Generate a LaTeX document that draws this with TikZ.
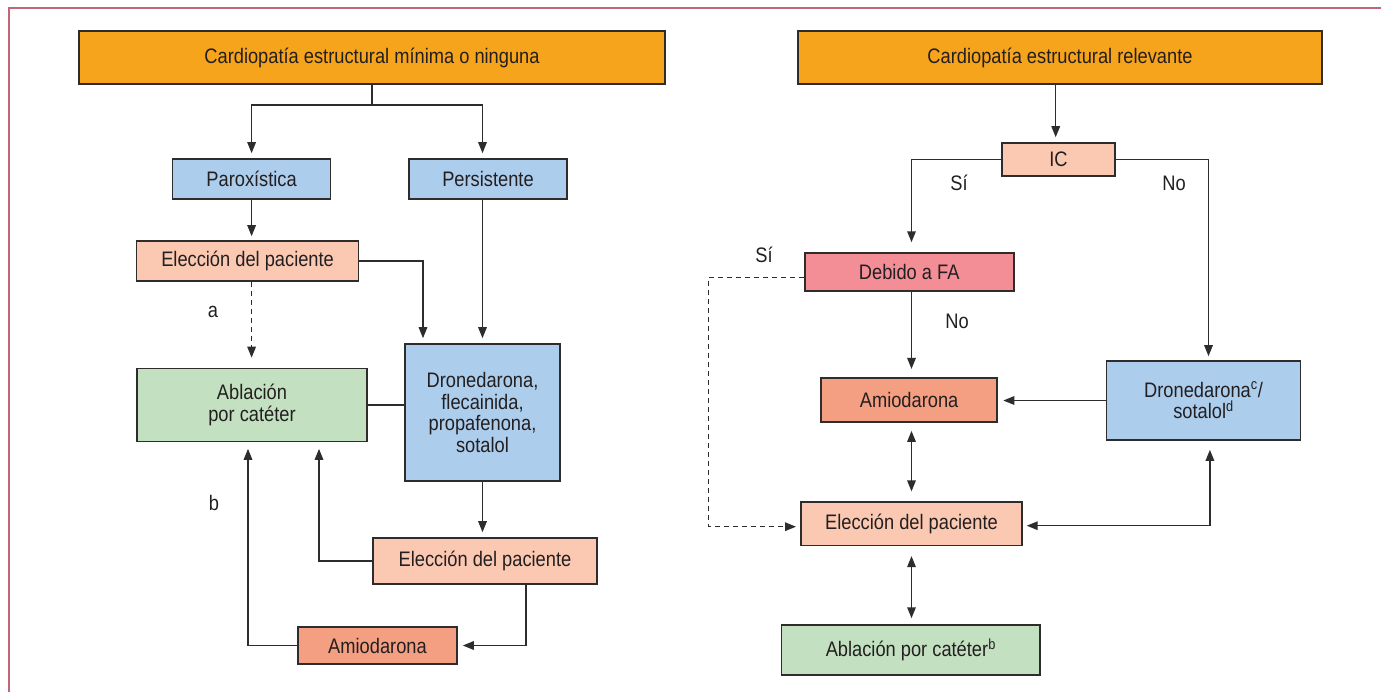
\documentclass[tikz,border=0pt]{standalone}
\usepackage{fontspec}
\setmainfont{Liberation Sans}[FakeStretch=0.87]
\usetikzlibrary{arrows.meta,calc}
\definecolor{cOrange}{HTML}{F7A41D}
\definecolor{cBlue}{HTML}{ACCDEC}
\definecolor{cPeach}{HTML}{FBC8B2}
\definecolor{cGreen}{HTML}{C3E1C1}
\definecolor{cSalmon}{HTML}{F49F82}
\definecolor{cPink}{HTML}{F38E96}
\definecolor{cFrame}{HTML}{C26675}
\definecolor{cLine}{HTML}{2E2C2D}
\definecolor{cText}{HTML}{231F20}
\begin{document}
\begin{tikzpicture}[x=1bp,y=-1bp,
  box/.style={draw=cLine,line width=1.6bp,inner sep=0pt,align=center,
    font=\fontsize{21bp}{21.5bp}\selectfont,text=cText},
  conn/.style={draw=cLine,line width=1.5bp},
  arr/.style={conn,-{Triangle[length=11bp,width=8.5bp]},shorten >=5bp},
  darr/.style={conn,{Triangle[length=11bp,width=8.5bp]}-{Triangle[length=11bp,width=8.5bp]}},
  dashline/.style={dash pattern=on 5bp off 4bp},
  lbl/.style={font=\fontsize{21bp}{21.5bp}\selectfont,text=cText,inner sep=0pt}
]
\useasboundingbox (0,0) rectangle (1381,692);
\fill[white] (0,0) rectangle (1381,692);
\draw[cFrame,line width=2bp] (8.5,692) -- (8.5,8) -- (1381,8);

% ---------- left diagram ----------
\node[box,fill=cOrange,minimum width=586bp,minimum height=53bp] (T1) at (372,57.5) {Cardiopatía estructural mínima o ninguna};
\node[box,fill=cBlue,minimum width=158bp,minimum height=40bp] (Parox) at (251.6,179) {Paroxística};
\node[box,fill=cBlue,minimum width=158bp,minimum height=40bp] (Persis) at (488,179) {Persistente};
\node[box,fill=cPeach,minimum width=222bp,minimum height=40bp] (ElecL) at (247.6,261) {Elección del paciente};
\node[box,fill=cBlue,minimum width=155bp,minimum height=137bp] (DroneL) at (482.5,412.5) {Dronedarona,\\flecainida,\\propafenona,\\sotalol};
\node[box,fill=cGreen,minimum width=230bp,minimum height=73bp] (Ablac) at (252,405) {Ablación\\por catéter};
\node[box,fill=cPeach,minimum width=224bp,minimum height=46bp] (Elec2) at (485,561) {Elección del paciente};
\node[box,fill=cSalmon,minimum width=159bp,minimum height=37bp] (AmioL) at (377.5,645.5) {Amiodarona};

\coordinate (s1) at (372,105);
\draw[conn] (T1.south) -- (s1);
\draw[arr] (s1) -| (Parox.north);
\draw[arr] (s1) -| (DroneL.north |- Persis.north);
\draw[arr] (DroneL.north |- Persis.south) -- (DroneL.north);
\draw[arr,shorten >=4bp] (Parox.south) -- (Parox.south |- ElecL.north);
\draw[arr] (ElecL.east) -| ($(DroneL.north)+(-59.5,0)$);
\draw[arr,dashline,shorten >=10bp] (Parox.south |- ElecL.south) -- (Parox.south |- Ablac.north);
\draw[conn] (Ablac.east) -- (Ablac.east -| DroneL.west);
\draw[arr] (DroneL.south) -- (DroneL.south |- Elec2.north);
\draw[arr,shorten >=6.5bp] (Elec2.west) -| ($(Ablac.south)+(67,0)$);
\draw[arr] ($(Elec2.south)+(41,0)$) |- (AmioL.east);
\draw[arr,shorten >=6.5bp] (AmioL.west) -| ($(Ablac.south)+(-4,0)$);
\node[lbl] (la) at (213,312) {a};
\node[lbl] (lb) at (214,503) {b};

% ---------- right diagram ----------
\node[box,fill=cOrange,minimum width=524bp,minimum height=53bp] (T2) at (1060,57.5) {Cardiopatía estructural relevante};
\node[box,fill=cPeach,minimum width=113.4bp,minimum height=32.7bp] (IC) at (1058.5,159.4) {IC};
\node[box,fill=cPink,minimum width=209bp,minimum height=37.7bp] (Debido) at (909.2,271.9) {Debido a FA};
\node[box,fill=cSalmon,minimum width=175.8bp,minimum height=44.3bp] (AmioR) at (909.1,399.9) {Amiodarona};
\node[box,fill=cBlue,minimum width=194bp,minimum height=79bp] (Drone2) at (1203.5,400.5) {Dronedarona\textsuperscript{c}/\\sotalol\textsuperscript{d}};
\node[box,fill=cPeach,minimum width=221.4bp,minimum height=43.6bp] (ElecR) at (911.5,523.5) {Elección del paciente};
\node[box,fill=cGreen,minimum width=258.4bp,minimum height=49.7bp] (AblacR) at (910.8,649.9) {Ablación por catéter\textsuperscript{b}};

\draw[arr] ($(IC.north |- T2.south)+(-2.8,0)$) -- ($(IC.north)+(-2.8,0)$);
\draw[arr,shorten >=10bp] (IC.west) -| ($(Debido.north)+(2.3,0)$);
\draw[arr,shorten >=4bp] (IC.east) -| ($(Drone2.north)+(5,0)$);
\draw[arr,shorten >=8bp] ($(Debido.south)+(2.3,0)$) -- ($(Debido.south |- AmioR.north)+(2.3,0)$);
\draw[arr,shorten >=5.5bp] (Drone2.west) -- (Drone2.west -| AmioR.east);
\draw[darr,shorten <=8bp,shorten >=9.5bp] ($(AmioR.south)+(2.4,0)$) -- ($(AmioR.south |- ElecR.north)+(2.4,0)$);
\draw[darr,shorten <=3.7bp,shorten >=9bp] ($(ElecR.east)+(0,2.2)$) -| ($(Drone2.south)+(6.4,0)$);
\draw[darr,shorten <=10bp,shorten >=6bp] (ElecR.south) -- (ElecR.south |- AblacR.north);
\coordinate (dc) at (708.7,0);
\draw[arr,dashline,shorten >=4bp] ($(Debido.west)+(0,5.5)$) -| ($(dc |- ElecR.west)+(0,3.2)$) -- ($(ElecR.west)+(0,3.2)$);
\node[lbl] (si1) at (959,183.3) {Sí};
\node[lbl] (no1) at (1174,183.3) {No};
\node[lbl] (si2) at (764,255) {Sí};
\node[lbl] (no2) at (957,321.7) {No};
\end{tikzpicture}
\end{document}
